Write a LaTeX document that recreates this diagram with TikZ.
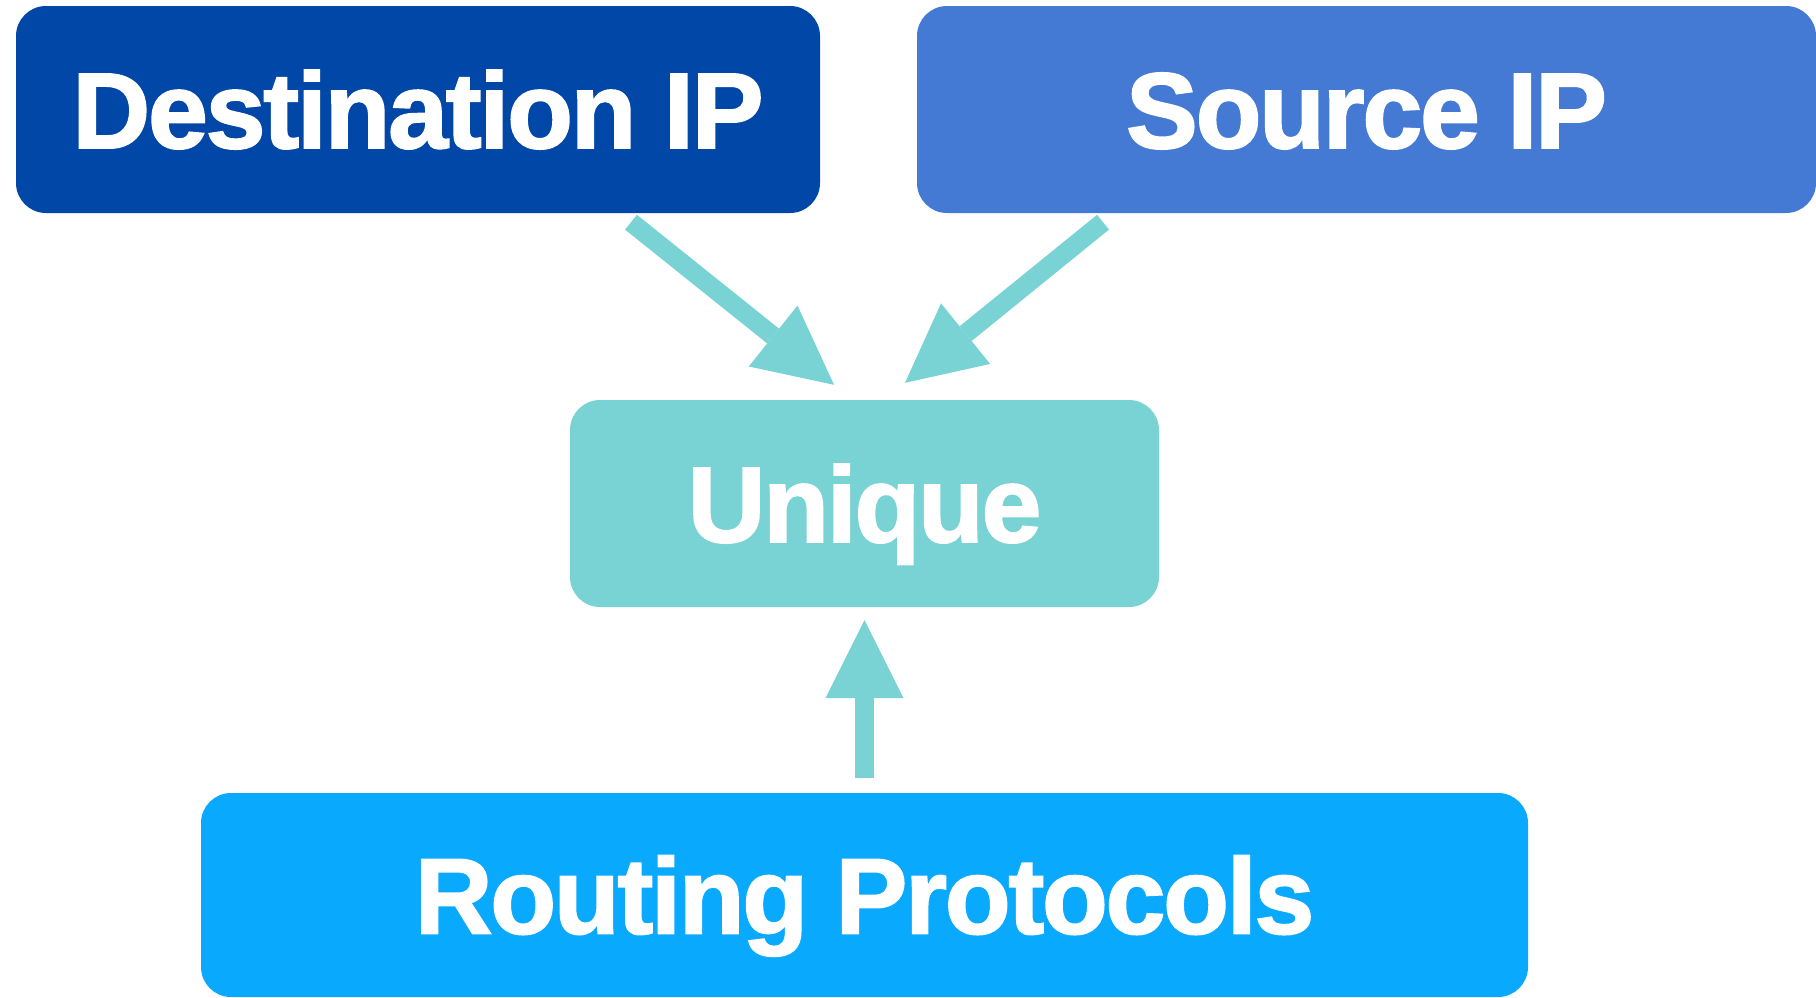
\documentclass[tikz,border=0pt]{standalone}
\usepackage{fontspec}
\setmainfont{Liberation Sans}
\newfontfamily\lblfont{Liberation Sans}[FakeBold=1.8,LetterSpace=-2.0]
\usetikzlibrary{arrows.meta}
\definecolor{dstblue}{RGB}{0,71,167}
\definecolor{srcblue}{RGB}{69,122,212}
\definecolor{teal}{RGB}{121,211,212}
\definecolor{skyblue}{RGB}{9,169,254}
\tikzset{
  box/.style={rectangle, rounded corners=30pt, draw=none, text=white,
    font=\lblfont\fontsize{107.5}{120}\selectfont\bfseries,
    text height=77pt, text depth=0pt, inner sep=0pt},
  arr/.style={draw=teal, line width=19pt,
    -{Triangle[length=78pt,width=78pt,line width=0pt]}}
}
\begin{document}
\begin{tikzpicture}[x=1pt,y=-1pt]
\useasboundingbox (0,0) rectangle (1816,997);
\node[box, fill=dstblue, minimum width=804pt, minimum height=207pt] (dst) at (418,109.5) {Destination IP};
\node[box, fill=srcblue, minimum width=899pt, minimum height=207pt] (src) at (1366.5,109.5) {Source IP};
\node[box, fill=teal, minimum width=589pt, minimum height=207pt] (uni) at (864.5,503.5) {Unique};
\node[box, fill=skyblue, minimum width=1327pt, minimum height=204pt] (rout) at (864.5,895) {Routing Protocols};
\draw[arr] ([shift={(213,9)}]dst.south) -- ([shift={(-30.5,-15)}]uni.north);
\draw[arr] ([shift={(-263.5,9)}]src.south) -- ([shift={(40.5,-17)}]uni.north);
\draw[arr] ([shift={(0,-15)}]rout.north) -- ([shift={(0,13)}]uni.south);
\end{tikzpicture}
\end{document}
